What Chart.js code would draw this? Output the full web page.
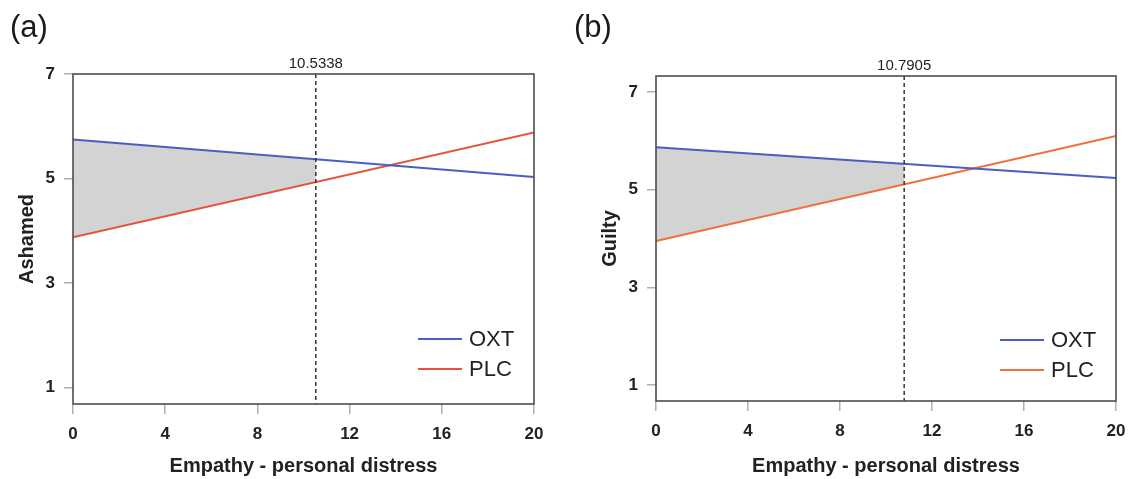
<!DOCTYPE html>
<html>
<head>
<meta charset="utf-8">
<script src="https://cdn.jsdelivr.net/npm/chart.js@4.4.1/dist/chart.umd.min.js"></script>
<style>
  html, body { margin: 0; padding: 0; background: #ffffff; }
  #wrap { position: relative; width: 1131px; height: 479px; background: #ffffff; overflow: hidden; }
  .panel { position: absolute; top: 0; height: 479px; }
  .tag { position: absolute; font-family: "Liberation Sans", Arial, sans-serif; font-size: 31px; color: #1a1a1a; line-height: 1; }
</style>
</head>
<body>
<div id="wrap">
  <div class="panel" style="left:0px;width:565px;"><canvas id="chartA" width="565" height="479"></canvas></div>
  <div class="panel" style="left:583px;width:568px;"><canvas id="chartB" width="568" height="479"></canvas></div>
  <div class="tag" style="left:10px;top:11px;">(a)</div>
  <div class="tag" style="left:574px;top:11px;">(b)</div>
</div>
<script>
// ---- data ----
const xEnds = [0, 20];
const xTicks = [0, 4, 8, 12, 16, 20];
const yTicks = [1, 3, 5, 7];
const seriesNames = ['OXT', 'PLC'];
const xTitle = 'Empathy - personal distress';

// panel (a) Ashamed
const ashamedOXT = [5.75, 5.03];
const ashamedPLC = [3.88, 5.88];
const ashamedCut = 10.5338;
const ashamedShadeX = [0, 10.5338];
const ashamedShadeOXT = [5.75, 5.37];
const ashamedShadePLC = [3.88, 4.93];
const ashamedYRange = [0.69, 7.0];

// panel (b) Guilty
const guiltyOXT = [5.87, 5.24];
const guiltyPLC = [3.95, 6.10];
const guiltyCut = 10.7905;
const guiltyShadeX = [0, 10.7905];
const guiltyShadeOXT = [5.87, 5.53];
const guiltyShadePLC = [3.95, 5.11];
const guiltyYRange = [0.67, 7.33];

const FONT = '"Liberation Sans", Arial, sans-serif';

function pts(xs, ys) { return xs.map((x, i) => ({ x: x, y: ys[i] })); }

function makePanel(canvasId, cfg) {
  const overlay = {
    id: 'overlay_' + canvasId,
    afterDatasetsDraw(chart) {
      const { ctx, chartArea: a, scales } = chart;
      const xs = scales.x;
      ctx.save();
      // dashed threshold line
      const cx = xs.getPixelForValue(cfg.cut);
      ctx.strokeStyle = '#333333';
      ctx.lineWidth = 1.5;
      ctx.setLineDash([4, 3]);
      ctx.beginPath();
      ctx.moveTo(cx, a.top);
      ctx.lineTo(cx, a.bottom);
      ctx.stroke();
      ctx.setLineDash([]);
      // box
      ctx.strokeStyle = '#4d4d4d';
      ctx.lineWidth = 1.6;
      ctx.strokeRect(a.left, a.top, a.right - a.left, a.bottom - a.top);
      // threshold label
      ctx.fillStyle = '#222222';
      ctx.font = '15px ' + FONT;
      ctx.textAlign = 'center';
      ctx.textBaseline = 'alphabetic';
      ctx.fillText(cfg.cut.toFixed(4), cx, a.top - 6);
      // legend
      ctx.font = '22px ' + FONT;
      ctx.textAlign = 'left';
      ctx.textBaseline = 'middle';
      const lx1 = a.right - 116, lx2 = a.right - 72;
      const rows = [[seriesNames[0], cfg.oxtColor, a.bottom - cfg.legOff[0]],
                    [seriesNames[1], cfg.plcColor, a.bottom - cfg.legOff[1]]];
      rows.forEach(r => {
        ctx.strokeStyle = r[1];
        ctx.lineWidth = 2;
        ctx.beginPath();
        ctx.moveTo(lx1, r[2]);
        ctx.lineTo(lx2, r[2]);
        ctx.stroke();
        ctx.fillStyle = '#222222';
        ctx.fillText(r[0], lx2 + 7, r[2] + 1);
      });
      ctx.restore();
    }
  };

  return new Chart(document.getElementById(canvasId), {
    type: 'line',
    data: {
      datasets: [
        { label: seriesNames[0], data: pts(xEnds, cfg.oxt), borderColor: cfg.oxtColor, borderWidth: 2, pointRadius: 0, fill: false },
        { label: seriesNames[1], data: pts(xEnds, cfg.plc), borderColor: cfg.plcColor, borderWidth: 2, pointRadius: 0, fill: false },
        { label: 'shade', data: pts(cfg.shadeX, cfg.shadeOXT), borderColor: 'rgba(0,0,0,0)', borderWidth: 0, pointRadius: 0, backgroundColor: '#d3d3d3', fill: 3 },
        { label: 'shadeLow', data: pts(cfg.shadeX, cfg.shadePLC), borderColor: 'rgba(0,0,0,0)', borderWidth: 0, pointRadius: 0, fill: false }
      ]
    },
    options: {
      responsive: false,
      animation: false,
      devicePixelRatio: 1,
      layout: { padding: cfg.padding },
      plugins: { legend: { display: false }, tooltip: { enabled: false } },
      elements: { line: { tension: 0 } },
      scales: {
        x: {
          type: 'linear',
          min: xEnds[0], max: xEnds[1],
          afterBuildTicks: s => { s.ticks = xTicks.map(v => ({ value: v })); },
          afterFit: s => { s.height = cfg.xHeight; },
          grid: { display: true, drawOnChartArea: false, drawTicks: true, tickLength: 10, color: '#b0b0b0', lineWidth: 1.5 },
          border: { display: false },
          ticks: { font: { family: FONT, size: 17, weight: 'bold' }, color: '#222222', padding: 10, maxRotation: 0 },
          title: { display: true, text: xTitle, font: { family: FONT, size: 20, weight: 'bold' }, color: '#222222', padding: { top: 0, bottom: 1 } }
        },
        y: {
          type: 'linear',
          min: cfg.yRange[0], max: cfg.yRange[1],
          afterBuildTicks: s => { s.ticks = yTicks.map(v => ({ value: v })); },
          afterFit: s => { s.width = 73; },
          grid: { display: true, drawOnChartArea: false, drawTicks: true, tickLength: 9, color: '#b0b0b0', lineWidth: 1.5 },
          border: { display: false },
          ticks: { font: { family: FONT, size: 17, weight: 'bold' }, color: '#222222', padding: 9 },
          title: { display: true, text: cfg.yTitle, font: { family: FONT, size: 20, weight: 'bold' }, color: '#222222', padding: { top: 15, bottom: 0 } }
        }
      }
    },
    plugins: [overlay]
  });
}

makePanel('chartA', {
  oxt: ashamedOXT, plc: ashamedPLC, cut: ashamedCut,
  shadeX: ashamedShadeX, shadeOXT: ashamedShadeOXT, shadePLC: ashamedShadePLC,
  yRange: ashamedYRange, yTitle: 'Ashamed',
  oxtColor: '#4a5ec2', plcColor: '#e5553b',
  padding: { left: 0, right: 31, top: 74, bottom: 0 }, xHeight: 75,
  legOff: [65, 35]
});

makePanel('chartB', {
  oxt: guiltyOXT, plc: guiltyPLC, cut: guiltyCut,
  shadeX: guiltyShadeX, shadeOXT: guiltyShadeOXT, shadePLC: guiltyShadePLC,
  yRange: guiltyYRange, yTitle: 'Guilty',
  oxtColor: '#4a5ec2', plcColor: '#f26e3c',
  padding: { left: 0, right: 35, top: 76, bottom: 0 }, xHeight: 78,
  legOff: [61, 31]
});
</script>
</body>
</html>
